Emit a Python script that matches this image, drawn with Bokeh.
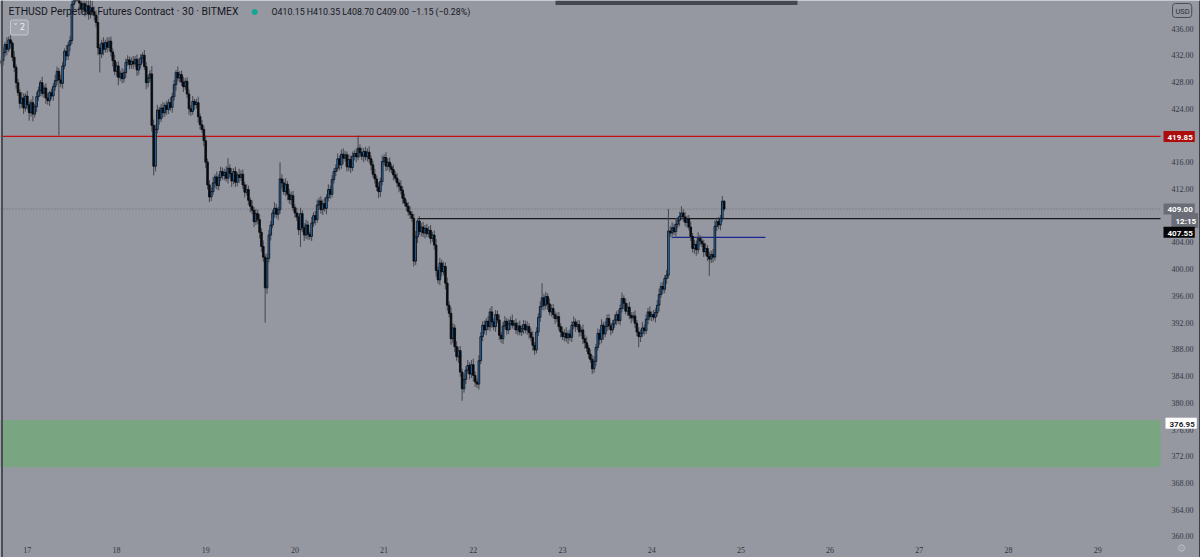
import numpy as np
from bokeh.plotting import figure
from bokeh.models import (Range1d, Label, LabelSet, BoxAnnotation, ColumnDataSource)
from bokeh.embed import file_html
from bokeh.resources import INLINE

# ---------------- data ----------------
start_day = 16 + 17 / 24          # first 30-min bar: 16th, 17:00
bar_days = 1 / 48                 # 30 minutes
first_open = 430.8

closes = [
    431.2, 432.4, 433.6, 432.9, 434.3, 433.8, 431.7, 430.2, 427.9, 426.4,
    424.8, 425.6, 424.1, 425.9, 424.6, 423.4, 424.9, 423.2, 424.3, 425.8,
    426.7, 427.9, 426.3, 427.1, 425.6, 425.2, 426.4, 425.9, 427.3, 428.2,
    429.6, 428.3, 427.8, 430.4, 432.6, 431.9, 433.5, 434.2, 439.6, 441.0,
    440.6, 441.3, 439.8, 438.9, 439.7, 438.6, 439.4, 438.2, 439.1, 438.5,
    438.0, 436.9, 433.1, 432.2, 433.8, 432.9, 433.9, 433.2, 434.1, 432.5,
    431.2, 429.6, 430.4, 428.7, 429.3, 428.5, 429.4, 430.9, 431.3, 430.6,
    431.1, 430.7, 431.4, 429.8, 430.6, 431.6, 432.0, 430.3, 427.9, 428.6,
    429.2, 421.5, 415.4, 420.9, 423.8, 422.5, 424.1, 423.4, 424.5, 423.9,
    424.9, 424.2, 425.8, 427.6, 429.4, 428.6, 429.1, 428.0, 427.3, 428.1,
    426.2, 424.0, 423.6, 425.1, 424.6, 424.9, 422.8, 421.6, 420.9, 419.2,
    416.0, 412.6, 410.8, 411.6, 412.9, 413.8, 412.5, 413.7, 414.6, 414.0,
    414.5, 413.6, 415.1, 414.3, 413.2, 414.6, 413.0, 414.1, 413.7, 414.2,
    412.6, 411.5, 411.9, 410.3, 409.4, 408.8, 407.1, 408.3, 407.4, 405.5,
    403.4, 401.8, 397.2, 401.6, 405.1, 406.6, 408.4, 409.1, 408.2, 408.9,
    413.5, 412.9, 411.6, 412.7, 411.2, 410.4, 411.0, 409.2, 408.4, 407.8,
    405.9, 408.3, 406.2, 405.1, 406.6, 405.2, 404.9, 406.9, 408.0, 407.4,
    409.6, 410.2, 408.9, 409.8, 409.1, 410.7, 411.9, 411.2, 413.4, 414.6,
    415.1, 416.5, 415.6, 417.2, 416.6, 417.1, 415.3, 416.4, 415.2, 416.9,
    417.3, 416.8, 418.1, 417.4, 416.9, 417.6, 416.8, 417.5, 416.5, 415.6,
    414.2, 413.5, 412.3, 411.6, 413.1, 416.1, 416.7, 415.4, 416.0, 415.3,
    414.9, 414.1, 413.6, 412.9, 412.4, 411.8, 410.6, 409.9, 409.4, 408.6,
    408.2, 407.6, 401.2, 404.8, 407.2, 405.6, 406.3, 405.4, 406.1, 405.3,
    405.8, 404.6, 405.1, 403.6, 399.8, 398.4, 400.9, 399.6, 400.4, 397.9,
    394.6, 393.4, 389.6, 391.2, 388.4, 386.9, 387.8, 384.6, 382.1, 383.5,
    384.9, 385.6, 384.3, 385.7, 384.1, 383.1, 382.8, 386.3, 389.9, 391.6,
    390.9, 392.2, 391.4, 393.6, 392.1, 391.4, 393.2, 392.4, 390.1, 389.6,
    391.5, 392.2, 390.9, 391.8, 392.3, 391.6, 391.9, 390.9, 391.5, 390.6,
    391.1, 391.7, 390.9, 391.4, 390.5, 389.8, 388.6, 387.9, 390.6, 392.8,
    394.4, 395.7, 394.6, 395.9, 394.8, 393.6, 394.1, 393.2, 392.6, 392.9,
    391.4, 390.6, 389.9, 390.4, 389.7, 390.3, 389.8, 391.6, 392.1, 391.4,
    391.7, 390.6, 390.9, 389.6, 389.0, 388.2, 387.3, 386.5, 385.1, 386.2,
    388.3, 390.4, 389.5, 391.6, 390.3, 391.4, 392.6, 391.5, 390.9, 391.8,
    392.4, 393.2, 392.3, 394.1, 395.6, 394.9, 393.7, 394.3, 393.1, 392.7,
    393.0, 391.9, 390.6, 389.9, 390.4, 391.2, 390.8, 392.5, 393.6, 392.9,
    393.2, 392.8, 393.5, 394.6, 396.2, 397.4, 397.0, 398.6, 399.1, 405.7,
    405.4, 406.2, 405.6, 406.7, 407.3, 407.9, 408.4, 407.8, 407.0, 407.5,
    406.3, 404.9, 403.1, 403.7, 402.9, 404.6, 404.2, 403.8, 402.6, 403.1,
    401.9, 401.5, 402.2, 401.8, 406.4, 407.1, 406.6, 407.6, 410.15, 409.00,
]

upper_wicks = [
    0.6, 0.8, 0.4, 1.1, 0.5, 0.7, 0.3, 0.9, 0.4, 0.6,
    0.5, 0.9, 0.7, 0.4, 0.8, 0.6, 0.5, 1.0, 0.4, 0.7,
    0.6, 0.4, 0.9, 0.5, 0.7, 0.8, 0.3, 0.6, 0.5, 0.9,
    0.7, 0.5, 0.8, 0.6, 0.4, 0.9, 0.5, 0.7, 0.6, 1.4,
    1.2, 1.6, 0.9, 1.1, 1.5, 0.8, 1.3, 0.9, 1.2, 1.0,
    0.8, 0.7, 1.1, 0.6, 0.5, 0.9, 0.4, 0.8, 0.6, 0.7,
    0.5, 0.9, 0.6, 0.7, 0.4, 0.8, 0.5, 0.6, 0.7, 0.5,
    0.6, 0.8, 0.5, 0.7, 0.9, 0.6, 0.4, 0.8, 0.7, 0.5,
    0.6, 1.2, 0.9, 0.7, 0.8, 0.5, 0.6, 0.9, 0.4, 0.7,
    0.5, 0.8, 0.6, 0.7, 0.4, 0.9, 0.5, 0.6, 0.8, 0.5,
    0.6, 0.7, 0.5, 0.8, 0.4, 0.6, 0.9, 0.5, 0.7, 0.6,
    0.8, 0.5, 0.7, 0.6, 0.9, 0.4, 0.8, 0.5, 0.7, 0.6,
    0.5, 0.9, 1.5, 0.6, 0.8, 0.5, 0.7, 0.4, 0.9, 0.6,
    0.7, 0.5, 0.8, 0.6, 0.4, 0.9, 0.5, 0.7, 0.6, 0.8,
    0.6, 0.9, 0.5, 0.7, 0.8, 0.6, 0.5, 0.9, 0.7, 0.4,
    2.5, 0.7, 0.6, 0.9, 0.5, 0.8, 0.6, 0.7, 0.5, 0.8,
    0.6, 0.9, 0.5, 0.7, 0.8, 0.6, 0.4, 0.9, 0.5, 0.7,
    0.8, 0.5, 0.7, 0.6, 0.9, 0.5, 0.8, 0.6, 0.7, 0.5,
    0.6, 0.8, 0.5, 0.7, 0.9, 0.6, 0.5, 0.8, 0.6, 0.7,
    0.5, 0.7, 1.9, 0.6, 0.8, 0.5, 0.7, 0.6, 0.9, 0.5,
    0.6, 0.8, 0.5, 0.7, 0.6, 0.9, 0.5, 0.8, 0.6, 0.7,
    0.5, 0.7, 0.6, 0.8, 0.5, 0.9, 0.6, 0.7, 0.5, 0.6,
    0.8, 0.5, 0.7, 0.9, 0.35, 0.7, 0.6, 0.8, 0.5, 0.7,
    0.6, 0.8, 0.5, 0.7, 0.9, 0.6, 0.8, 0.5, 0.7, 0.6,
    0.8, 0.6, 0.9, 0.7, 0.5, 0.8, 0.6, 0.7, 0.5, 0.9,
    0.6, 0.8, 0.5, 0.7, 0.9, 0.6, 0.5, 0.8, 0.7, 0.6,
    0.7, 0.5, 0.8, 0.6, 0.9, 0.5, 0.7, 0.6, 0.8, 0.5,
    0.6, 0.8, 0.5, 0.7, 0.6, 0.9, 0.5, 0.7, 0.6, 0.8,
    0.5, 0.7, 0.6, 0.8, 0.5, 0.6, 0.9, 0.5, 0.7, 0.6,
    0.8, 2.2, 0.6, 0.7, 0.5, 0.8, 0.6, 0.7, 0.5, 0.6,
    0.7, 0.5, 0.8, 0.6, 0.9, 0.5, 0.7, 0.6, 0.8, 0.5,
    0.6, 0.7, 0.5, 0.8, 0.6, 0.9, 0.5, 0.7, 0.6, 0.8,
    0.5, 0.7, 0.6, 0.9, 0.5, 0.8, 0.6, 0.7, 0.5, 0.6,
    0.8, 0.5, 0.7, 0.6, 0.9, 0.5, 0.7, 0.6, 0.8, 0.5,
    0.6, 0.8, 0.5, 0.7, 0.6, 0.9, 0.5, 0.7, 0.6, 0.8,
    0.5, 0.7, 0.6, 0.8, 0.9, 0.6, 0.7, 0.5, 0.8, 3.3,
    0.7, 0.8, 0.6, 0.9, 0.5, 0.7, 1.0, 0.6, 0.8, 0.5,
    0.6, 0.8, 0.5, 0.7, 0.6, 0.9, 0.5, 0.7, 0.6, 0.8,
    0.5, 0.7, 0.6, 0.8, 0.9, 0.6, 0.7, 0.5, 0.8, 0.2,
]

lower_wicks = [
    0.5, 0.7, 0.6, 0.9, 0.4, 0.8, 0.6, 0.7, 0.9, 0.5,
    0.8, 0.6, 0.9, 0.5, 0.7, 1.2, 0.6, 1.1, 0.5, 0.8,
    0.6, 0.8, 0.5, 0.7, 0.9, 0.6, 0.8, 0.5, 0.7, 0.6,
    0.7, 8.3, 0.6, 0.8, 0.5, 0.7, 0.6, 0.9, 0.5, 0.7,
    0.8, 0.6, 0.9, 0.7, 0.5, 0.8, 0.6, 0.9, 0.7, 0.6,
    0.8, 0.7, 1.1, 2.8, 0.6, 0.9, 0.5, 0.8, 0.6, 0.7,
    0.9, 0.6, 0.8, 1.2, 0.5, 0.7, 0.6, 0.8, 0.5, 0.7,
    0.6, 0.8, 0.5, 0.9, 0.7, 0.6, 0.8, 0.5, 1.0, 0.7,
    0.6, 0.9, 1.4, 0.8, 0.6, 0.9, 0.5, 0.7, 0.6, 0.8,
    0.7, 0.5, 0.8, 0.6, 0.9, 0.5, 0.7, 0.6, 0.8, 0.5,
    0.6, 0.9, 0.7, 0.5, 0.8, 0.6, 0.9, 0.7, 0.5, 0.8,
    0.9, 0.7, 0.8, 0.6, 0.5, 0.8, 0.6, 0.7, 0.5, 0.6,
    0.7, 0.5, 0.8, 0.6, 0.9, 0.5, 0.7, 0.6, 0.8, 0.5,
    0.6, 0.8, 0.5, 0.7, 0.9, 0.6, 0.8, 0.5, 0.7, 0.9,
    0.8, 0.7, 5.2, 0.9, 0.6, 0.8, 0.5, 0.7, 0.6, 0.8,
    0.6, 0.8, 0.5, 0.7, 0.9, 0.6, 0.8, 0.5, 0.7, 0.6,
    0.8, 2.6, 0.7, 0.9, 0.6, 0.8, 0.5, 0.7, 0.6, 0.8,
    0.5, 0.7, 0.6, 0.8, 0.5, 0.9, 0.6, 0.7, 0.5, 0.6,
    0.7, 0.5, 0.8, 0.6, 0.9, 0.5, 0.7, 0.6, 0.8, 0.5,
    0.6, 0.8, 0.5, 0.7, 0.6, 0.9, 0.5, 0.7, 0.6, 0.8,
    0.5, 0.7, 0.6, 1.0, 0.8, 0.6, 0.5, 0.7, 0.6, 0.8,
    0.6, 0.8, 0.5, 0.7, 0.9, 0.6, 0.8, 0.5, 0.7, 0.6,
    0.7, 0.5, 0.8, 0.6, 0.9, 0.5, 0.7, 0.6, 0.8, 0.5,
    0.6, 0.8, 0.5, 0.7, 0.9, 0.6, 0.8, 0.7, 0.5, 0.9,
    0.8, 0.6, 0.9, 0.7, 0.8, 0.6, 0.9, 0.7, 1.8, 0.6,
    0.7, 0.5, 0.8, 0.6, 0.9, 0.7, 0.6, 0.8, 0.5, 0.7,
    0.6, 0.8, 0.5, 0.7, 0.9, 0.6, 0.8, 0.5, 0.7, 0.6,
    0.8, 0.5, 0.7, 0.6, 0.9, 0.5, 0.7, 0.6, 0.8, 0.5,
    0.6, 0.8, 0.5, 0.7, 0.9, 0.6, 0.8, 0.7, 0.5, 0.6,
    0.7, 0.5, 0.8, 0.6, 0.9, 0.5, 0.7, 0.6, 0.8, 0.5,
    0.6, 0.8, 0.5, 0.7, 0.6, 0.9, 0.5, 0.7, 0.6, 0.8,
    0.5, 0.7, 0.6, 0.8, 0.9, 0.6, 0.7, 0.5, 0.8, 0.6,
    0.7, 0.5, 0.8, 0.6, 0.9, 0.5, 0.7, 0.6, 0.8, 0.5,
    0.6, 0.8, 0.5, 0.7, 0.6, 0.9, 0.5, 0.7, 0.6, 0.8,
    0.5, 0.7, 0.6, 1.6, 0.8, 0.6, 0.7, 0.5, 0.8, 0.6,
    0.7, 0.5, 0.8, 0.6, 0.9, 0.5, 0.7, 0.6, 0.8, 0.5,
    0.6, 0.8, 0.5, 0.7, 0.6, 0.9, 0.5, 0.7, 0.6, 0.8,
    0.5, 0.7, 0.6, 0.8, 0.9, 0.6, 0.7, 0.5, 0.8, 0.6,
    0.7, 2.5, 0.6, 0.8, 0.5, 0.7, 0.6, 0.8, 0.5, 0.3,
]

price_ticks = [360, 364, 368, 372, 376, 380, 384, 388, 392, 396, 400, 404,
               408, 412, 416, 420, 424, 428, 432, 436]
day_ticks = [17, 18, 19, 20, 21, 22, 23, 24, 25, 26, 27, 28, 29]

resistance_level = 419.85
last_price = 409.00
black_level = 407.55
black_level_start_bar = 224
navy_level = 404.75
navy_start_day = 24.233
navy_end_day = 25.276
zone_top = 377.4
zone_bottom = 370.35
zone_label = 376.95

title_text = "ETHUSD Perpetual Futures Contract · 30 · BITMEX"
ohlc_text = "O410.15 H410.35 L408.70 C409.00 \u22121.15 (\u22120.28%)"
countdown_text = "12:15"

assert len(closes) == len(upper_wicks) == len(lower_wicks)

# ---------------- layout constants (pixels) ----------------
W, H = 1200, 557
PX_PER_DAY = 89.2
PX_PER_USD = 6.684
X0_DAY = 16.6996          # day at canvas x = 0
Y0_PRICE = 440.19         # price at canvas y = 0
PANE_RIGHT_PX = 1160      # right edge of the price pane
pane_right_day = X0_DAY + PANE_RIGHT_PX / PX_PER_DAY

# ---------------- derived candle table ----------------
n = len(closes)
t = start_day + np.arange(n) * bar_days
c = np.array(closes)
o = np.array([first_open] + closes[:-1])
top = np.maximum(o, c)
bot = np.minimum(o, c)
hi = top + np.array(upper_wicks)
lo = bot - np.array(lower_wicks)
up = c >= o
UP_COL = "#2c7bc4"
DN_COL = "#0b0c10"
src = ColumnDataSource(dict(t=t, top=top, bot=bot, hi=hi, lo=lo,
                            fill=[UP_COL if u else DN_COL for u in up]))

BG = "#9598a1"
FONT = "Roboto"

p = figure(width=W, height=H,
           x_range=Range1d(X0_DAY, X0_DAY + W / PX_PER_DAY),
           y_range=Range1d(Y0_PRICE - H / PX_PER_USD, Y0_PRICE),
           output_backend="svg", toolbar_location=None,
           x_axis_location=None, y_axis_location=None,
           min_border=0,
           background_fill_color=BG, border_fill_color=BG, outline_line_color=None)
p.grid.visible = False

# green demand zone (price pane only)
p.add_layout(BoxAnnotation(bottom=zone_bottom, top=zone_top, right=pane_right_day,
                           fill_color="#79a680", fill_alpha=1.0, line_color=None,
                           level="underlay"))

# left dark edge, right border, top ui bar
p.add_layout(BoxAnnotation(left=0, right=2.5, left_units="screen", right_units="screen",
                           fill_color="#4a4d55", fill_alpha=1, line_color=None))
p.add_layout(BoxAnnotation(left=W - 1.5, right=W, left_units="screen", right_units="screen",
                           fill_color="#3c3f47", fill_alpha=1, line_color=None))
p.add_layout(BoxAnnotation(left=555, right=797, top=H, bottom=H - 4.5,
                           left_units="screen", right_units="screen",
                           top_units="screen", bottom_units="screen",
                           fill_color="#44474f", fill_alpha=1, line_color=None))

# horizontal levels inside the price pane
p.segment(x0=[X0_DAY], y0=[resistance_level], x1=[pane_right_day], y1=[resistance_level],
          line_color="#c20f0f", line_width=1.3)
p.segment(x0=[X0_DAY], y0=[last_price], x1=[pane_right_day], y1=[last_price],
          line_color="#676a73", line_width=1, line_dash="1 2")
p.segment(x0=[t[black_level_start_bar]], y0=[black_level], x1=[pane_right_day],
          y1=[black_level], line_color="#16181d", line_width=1.2)
p.segment(x0=[navy_start_day], y0=[navy_level], x1=[navy_end_day], y1=[navy_level],
          line_color="#1f2590", line_width=1.2)

# candles
p.segment(x0="t", y0="lo", x1="t", y1="hi", source=src,
          line_color="#3e4149", line_width=1.1, line_alpha=0.85)
p.vbar(x="t", width=bar_days * 0.9, top="top", bottom="bot", source=src,
       fill_color="fill", line_color="#08090c", line_width=0.8)

# price scale labels
price_src = ColumnDataSource(dict(price=price_ticks,
                                  label=[f"{v:.2f}" for v in price_ticks]))
p.add_layout(LabelSet(x=1193, y="price", text="label", x_units="screen", y_units="data",
                      source=price_src, text_font=FONT, text_font_size="8px",
                      text_color="#33363f", text_align="right", text_baseline="middle"))
# time scale labels
day_src = ColumnDataSource(dict(day=day_ticks, label=[str(d) for d in day_ticks]))
p.add_layout(LabelSet(x="day", y=H - 549, text="label", x_units="data", y_units="screen",
                      source=day_src, text_font=FONT, text_font_size="8px",
                      text_color="#33363f", text_align="center", text_baseline="middle"))

# header texts
p.add_layout(Label(x=8, y=H - 11, x_units="screen", y_units="screen", text=title_text,
                   text_font=FONT, text_font_size="10.4px", text_color="#15171d",
                   text_baseline="middle"))
p.add_layout(Label(x=254, y=H - 11, x_units="screen", y_units="screen", text="\u25cf",
                   text_font="DejaVu Sans", text_font_size="8px", text_color="#17a593",
                   text_align="center", text_baseline="middle"))
p.add_layout(Label(x=271, y=H - 11, x_units="screen", y_units="screen", text=ohlc_text,
                   text_font=FONT, text_font_size="8.8px", text_color="#15171d",
                   text_baseline="middle"))
p.add_layout(Label(x=10, y=H - 27, x_units="screen", y_units="screen", text="\u02c5 2",
                   text_font="DejaVu Sans", text_font_size="8px", text_color="#eceef2",
                   text_baseline="middle", background_fill_color="#a3a6ae",
                   border_line_color="#c4c6cc", border_radius=2, padding=3))

# right-side price tags
def tag(y, text, bg, fg, x=1163, y_offset=0):
    p.add_layout(Label(x=x, y=y, x_units="screen", y_units="data", text=text,
                       y_offset=y_offset, text_font=FONT, text_font_size="8px",
                       text_font_style="bold", text_color=fg, text_baseline="middle",
                       background_fill_color=bg, padding=[4, 2, 4, 2]))

tag(resistance_level, f"{resistance_level:.2f}", "#ad0c0c", "white")
tag(last_price, f"{last_price:.2f}", "#6a6d76", "white")
tag(last_price, countdown_text, "#6a6d76", "white", x=1171, y_offset=-11.5)
tag(black_level, f"{black_level:.2f}", "#050507", "white", y_offset=-13.7)
tag(zone_label, f"{zone_label:.2f}", "#ffffff", "#222222", x=1165)

p.add_layout(Label(x=1172, y=H - 10, x_units="screen", y_units="screen", text="USD",
                   text_font=FONT, text_font_size="7.5px", text_color="#2e3139",
                   text_baseline="middle", border_line_color="#4a4d55",
                   border_radius=3, padding=[3, 2, 3, 2]))
p.add_layout(Label(x=1181, y=H - 548, x_units="screen", y_units="screen", text="\u2699",
                   text_font="DejaVu Sans", text_font_size="11px", text_color="#b4b6bd",
                   text_align="center", text_baseline="middle"))

open("out.html", "w").write(file_html(p, INLINE))
